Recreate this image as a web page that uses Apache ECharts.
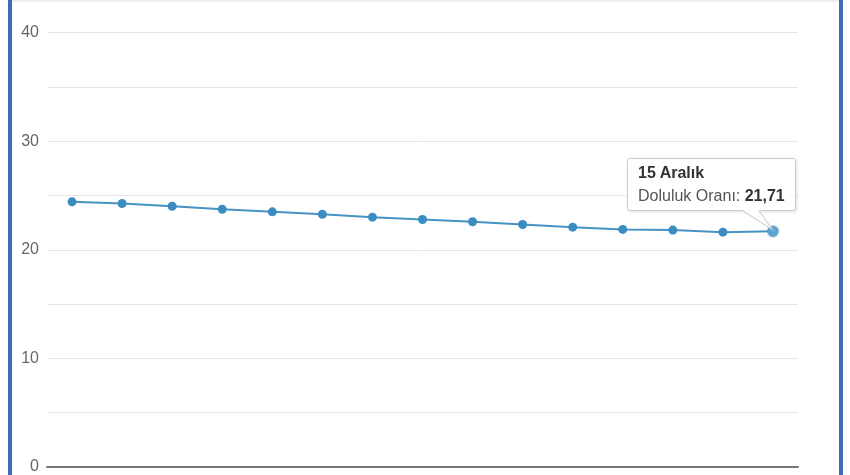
<!DOCTYPE html>
<html>
<head>
<meta charset="utf-8">
<script src="https://cdn.jsdelivr.net/npm/echarts@6/dist/echarts.min.js"></script>
<style>
  html, body { margin: 0; padding: 0; background: #fff; }
  #wrap { position: relative; width: 850px; height: 475px; overflow: hidden; }
  #chart { position: absolute; left: 0; top: 0; width: 850px; height: 475px; }
  .frameL { position: absolute; left: 8px; top: 0; width: 4px; height: 475px; background: #3f6db3; }
  .frameR { position: absolute; left: 839px; top: 0; width: 4px; height: 475px; background: #3f6db3; }
  .topline { position: absolute; left: 12px; top: 0; width: 827px; height: 2px; background: #eeeeee; }
</style>
</head>
<body>
<div id="wrap">
  <div id="chart"></div>
  <div class="topline"></div>
  <div class="frameL"></div>
  <div class="frameR"></div>
</div>
<script>
const categories = ['1 Aralık','2 Aralık','3 Aralık','4 Aralık','5 Aralık','6 Aralık','7 Aralık','8 Aralık','9 Aralık','10 Aralık','11 Aralık','12 Aralık','13 Aralık','14 Aralık','15 Aralık'];
const occupancy = [24.42, 24.27, 24.02, 23.74, 23.50, 23.28, 23.01, 22.80, 22.59, 22.34, 22.09, 21.88, 21.82, 21.63, 21.71];
const seriesName = 'Doluluk Oranı';
const yTicks = [0, 10, 20, 30, 40];

const chart = echarts.init(document.getElementById('chart'), null, { renderer: 'canvas' });
const FONT = '"Liberation Sans", Arial, sans-serif';

function fmt(v) { return v.toFixed(2).replace('.', ','); }

chart.setOption({
  animation: false,
  grid: { left: 47, right: 52, top: 32.7, bottom: 6.5, containLabel: false },
  xAxis: {
    type: 'category',
    data: categories,
    boundaryGap: true,
    axisLine: { show: true, lineStyle: { color: '#777777', width: 2 } },
    axisTick: { show: false },
    axisLabel: { show: false },
    splitLine: { show: false }
  },
  yAxis: {
    type: 'value',
    min: 0, max: 40, interval: 5,
    axisLine: { show: false },
    axisTick: { show: false },
    axisLabel: {
      margin: 8,
      color: '#666666',
      fontSize: 16,
      fontFamily: FONT,
      formatter: function (v) { return yTicks.indexOf(v) >= 0 ? String(v) : ''; }
    },
    splitLine: { show: true, lineStyle: { color: '#e6e6e6', width: 1 } }
  },
  tooltip: {
    trigger: 'item',
    triggerOn: 'none',
    alwaysShowContent: true,
    transitionDuration: 0,
    backgroundColor: '#ffffff',
    borderColor: '#cccccc',
    borderWidth: 1,
    padding: [2, 10, 3, 10],
    textStyle: { fontFamily: FONT, fontSize: 16, color: '#333333' },
    extraCssText: 'box-shadow: 1px 1px 3px rgba(0,0,0,0.12); border-radius: 3px; overflow: visible;',
    position: function () {
      const p = chart.convertToPixel({ seriesIndex: 0 }, [categories.length - 1, occupancy[occupancy.length - 1]]);
      return [p[0] - 146, p[1] - 73];
    },
    formatter: function (params) {
      const tail = '<svg width="160" height="80" style="position:absolute;left:0;top:0;overflow:visible;pointer-events:none">' +
        '<polygon points="115,51 131,51 145,71" fill="#ffffff" stroke="none"/>' +
        '<polyline points="115,52 145,71 131,52" fill="none" stroke="#c4c4c4" stroke-width="1"/>' +
        '</svg>';
      return tail +
        '<div style="position:relative;line-height:23px;font-weight:bold;color:#333">' + params.name + '</div>' +
        '<div style="position:relative;line-height:23px;color:#555">' + params.seriesName + ': <b style="color:#333">' + fmt(params.value) + '</b></div>';
    }
  },
  series: [{
    name: seriesName,
    type: 'line',
    data: occupancy,
    symbol: 'circle',
    symbolSize: 9,
    lineStyle: { color: '#4185b3', width: 2 },
    itemStyle: { color: '#3a8cc1' },
    emphasis: { scale: 1.2, itemStyle: { color: '#5ea5d3', borderColor: 'rgba(58,140,193,0.35)', borderWidth: 2 } }
  }]
});

chart.dispatchAction({ type: 'highlight', seriesIndex: 0, dataIndex: categories.length - 1 });
chart.dispatchAction({ type: 'showTip', seriesIndex: 0, dataIndex: categories.length - 1 });
</script>
</body>
</html>
